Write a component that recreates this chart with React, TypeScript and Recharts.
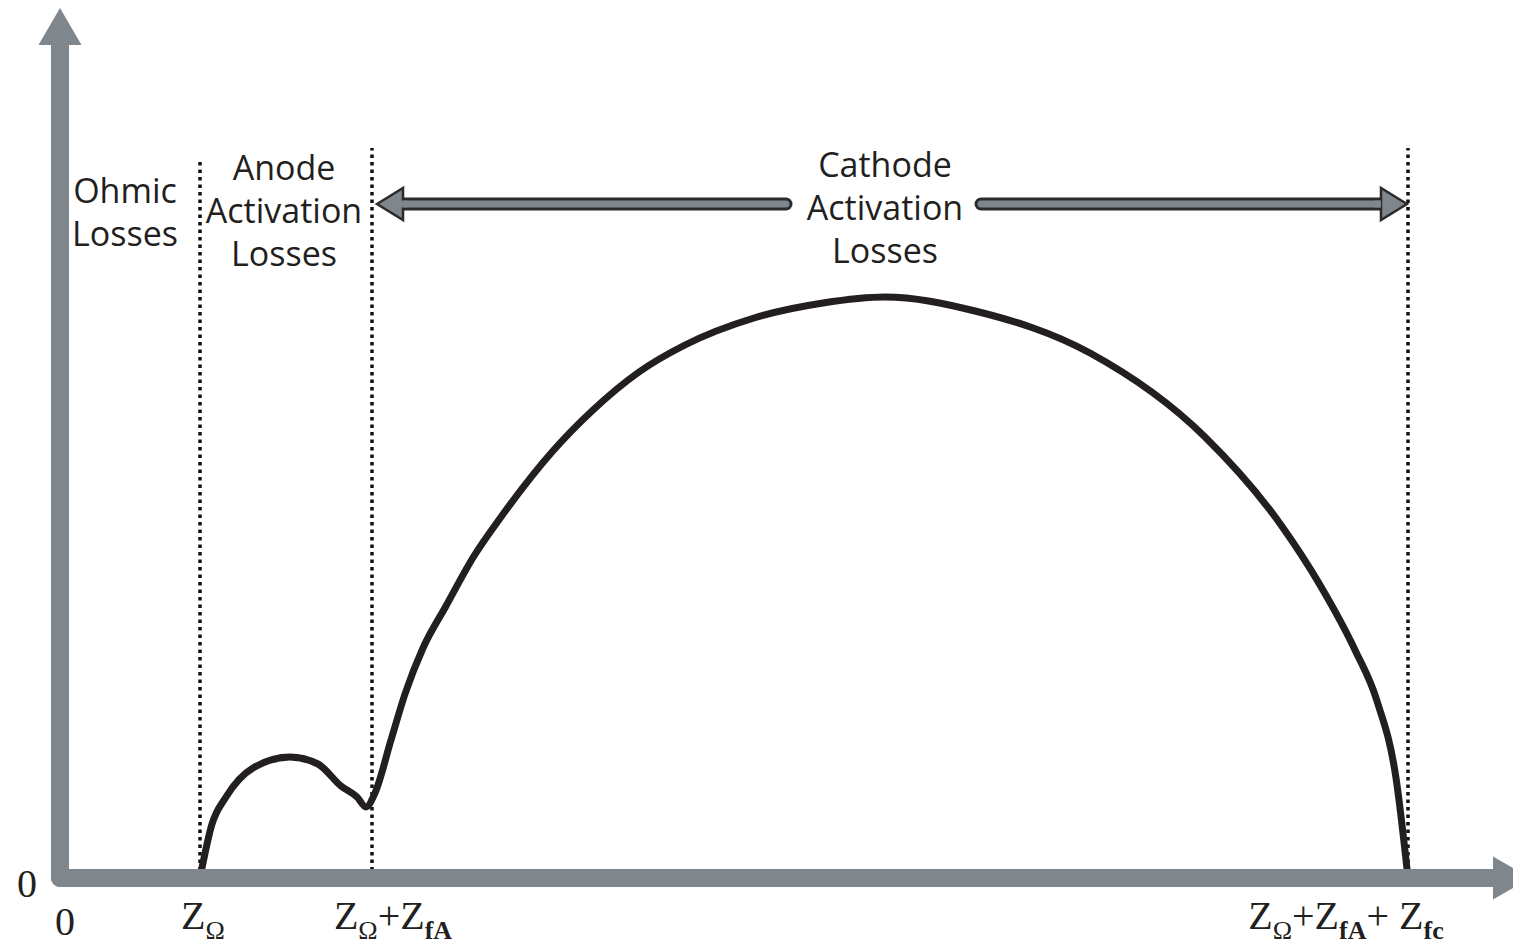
import React from "react";
import { LineChart, Line, XAxis, YAxis, ReferenceLine, ReferenceDot } from "recharts";

// Nyquist plot (arbitrary units)
const reZ = [14.0, 15.2, 16.6, 19.3, 23.0, 25.8, 28.1, 29.7, 30.6, 31.5, 33.1, 34.5, 36.3, 38.6, 41.4, 44.1, 49.2, 53.3, 57.9, 62.5, 69.4, 76.3, 82.5, 91.5, 103.0, 114.5, 122.1, 126.0, 129.5, 131.7, 133.6, 134.8];
const imZ = [0, 5.4, 8.1, 11.0, 12.1, 11.4, 9.2, 8.1, 7.1, 8.5, 13.8, 18.4, 23.0, 27.2, 32.2, 36.1, 42.6, 46.8, 50.6, 53.3, 56.0, 57.5, 58.1, 56.7, 52.5, 44.1, 35.3, 29.3, 22.8, 17.7, 10.0, 0];

const xTicks = [0, 14.0, 31.2, 134.8];
const xTickParts: [string, string][][] = [
  [["0", ""]],
  [["Z", "Ω"]],
  [["Z", "Ω"], ["+Z", "fA"]],
  [["Z", "Ω"], ["+Z", "fA"], ["+ Z", "fc"]],
];

const dividerX = [14.0, 31.2, 134.8];
const dividerTop = [71.8, 73.0, 73.0];

const regionNames = [["Ohmic", "Losses"], ["Anode", "Activation", "Losses"], ["Cathode", "Activation", "Losses"]];
const regionX = [6.5, 22.4, 82.5];
const regionY = [67.5, 69.8, 70.1];

const arrowY = 67.4;
const leftArrow = [31.7, 72.6];
const rightArrow = [92.1, 134.7];

const data = reZ.map((re, i) => ({ re, im: imZ[i] }));

const AXIS_GRAY = "#7f878d";
const INK = "#231f20";
const SERIF = "'Liberation Serif', 'Times New Roman', serif";
const SANS = "'Open Sans', 'Noto Sans', sans-serif";
const HEAD = 2.6;
const TICK_DX = [5, 3, 21, -62];

const XTick = (props: any) => {
  const { x, y, index } = props;
  const parts = xTickParts[index] || [];
  const plain = parts.length === 1 && !parts[0][1];
  return (
    <text x={x + TICK_DX[index]} y={y + (plain ? 57 : 51)} textAnchor="middle" fontFamily={SERIF} fontSize={40} fill={INK}>
      {parts.map(([main, sub], k) => (
        <React.Fragment key={k}>
          <tspan fontSize={40} dy={k === 0 ? 0 : -10}>{main}</tspan>
          {sub ? (
            <tspan fontSize={26} dy={10} fontWeight={sub === "Ω" ? 400 : 700}>{sub}</tspan>
          ) : null}
        </React.Fragment>
      ))}
    </text>
  );
};

const YTick = (props: any) => (
  <text x={props.x - 33} y={props.y + 19} textAnchor="middle" fontFamily={SERIF} fontSize={40} fill={INK}>
    {props.payload.value}
  </text>
);

const upHead = (p: any) => (
  <polygon points={`${p.cx - 21.5},${p.cy} ${p.cx + 21.5},${p.cy} ${p.cx},${p.cy - 37}`} fill={AXIS_GRAY} />
);
const rightHead = (p: any) => (
  <polygon points={`${p.cx},${p.cy - 21.5} ${p.cx},${p.cy + 21.5} ${p.cx + 37},${p.cy}`} fill={AXIS_GRAY} />
);

const thinHead = (dir: number) => (p: any) => {
  const back = p.cx + dir * 26;
  return (
    <g>
      <polygon
        points={`${p.cx},${p.cy} ${back},${p.cy - 16} ${back},${p.cy + 16}`}
        fill={AXIS_GRAY}
        stroke="#2b2b2b"
        strokeWidth={2.5}
        strokeLinejoin="miter"
      />
      <rect x={Math.min(back, back + dir * 4) - 2} y={p.cy - 3.5} width={6} height={7} fill={AXIS_GRAY} />
    </g>
  );
};

const regionText = (lines: string[]) => (p: any) => (
  <text x={p.cx} y={p.cy} textAnchor="middle" fontFamily={SANS} fontSize={34} fill={INK}>
    {lines.map((s, k) => (
      <tspan key={k} x={p.cx} dy={k === 0 ? 0 : 43}>{s}</tspan>
    ))}
  </text>
);

export default function App() {
  return (
    <div style={{ position: "fixed", left: 0, top: 0, width: 1513, height: 944, background: "#fff" }}>
      <LineChart width={1513} height={944} data={data} margin={{ top: 8, right: 0, bottom: 0, left: 0 }}>
        <XAxis
          type="number"
          dataKey="re"
          domain={[0, 145.3]}
          ticks={xTicks}
          interval={0}
          axisLine={false}
          tickLine={false}
          tickSize={0}
          tickMargin={0}
          height={66}
          tick={<XTick />}
        />
        <YAxis
          type="number"
          domain={[0, 87]}
          ticks={[0]}
          axisLine={false}
          tickLine={false}
          tickSize={0}
          tickMargin={0}
          width={60}
          tick={<YTick />}
        />

        {dividerX.map((x, i) => (
          <ReferenceLine
            key={`d${i}`}
            segment={[{ x, y: 0 }, { x, y: dividerTop[i] }]}
            stroke="#111"
            strokeWidth={3.5}
            strokeDasharray="3.5 4"
            ifOverflow="visible"
          />
        ))}

        <Line
          type="monotone"
          dataKey="im"
          stroke={INK}
          strokeWidth={7}
          strokeLinecap="round"
          strokeLinejoin="round"
          dot={false}
          activeDot={false}
          isAnimationActive={false}
        />

        <ReferenceLine segment={[{ x: 0, y: 0 }, { x: 0, y: 83.3 }]} stroke={AXIS_GRAY} strokeWidth={18} strokeLinecap="round" ifOverflow="visible" />
        <ReferenceLine segment={[{ x: 0, y: 0 }, { x: 143.3, y: 0 }]} stroke={AXIS_GRAY} strokeWidth={18} strokeLinecap="round" ifOverflow="visible" />
        <ReferenceDot x={0} y={83.3} r={1} shape={upHead} ifOverflow="visible" />
        <ReferenceDot x={143.3} y={0} r={1} shape={rightHead} ifOverflow="visible" />

        <ReferenceLine segment={[{ x: leftArrow[0] + HEAD, y: arrowY }, { x: leftArrow[1], y: arrowY }]} stroke="#2b2b2b" strokeWidth={13} strokeLinecap="round" ifOverflow="visible" />
        <ReferenceLine segment={[{ x: leftArrow[0] + HEAD, y: arrowY }, { x: leftArrow[1], y: arrowY }]} stroke={AXIS_GRAY} strokeWidth={7} strokeLinecap="round" ifOverflow="visible" />
        <ReferenceLine segment={[{ x: rightArrow[0], y: arrowY }, { x: rightArrow[1] - HEAD, y: arrowY }]} stroke="#2b2b2b" strokeWidth={13} strokeLinecap="round" ifOverflow="visible" />
        <ReferenceLine segment={[{ x: rightArrow[0], y: arrowY }, { x: rightArrow[1] - HEAD, y: arrowY }]} stroke={AXIS_GRAY} strokeWidth={7} strokeLinecap="round" ifOverflow="visible" />
        <ReferenceDot x={leftArrow[0]} y={arrowY} r={1} shape={thinHead(1)} ifOverflow="visible" />
        <ReferenceDot x={rightArrow[1]} y={arrowY} r={1} shape={thinHead(-1)} ifOverflow="visible" />

        {regionNames.map((lines, i) => (
          <ReferenceDot key={`r${i}`} x={regionX[i]} y={regionY[i]} r={1} shape={regionText(lines)} ifOverflow="visible" />
        ))}
      </LineChart>
    </div>
  );
}
